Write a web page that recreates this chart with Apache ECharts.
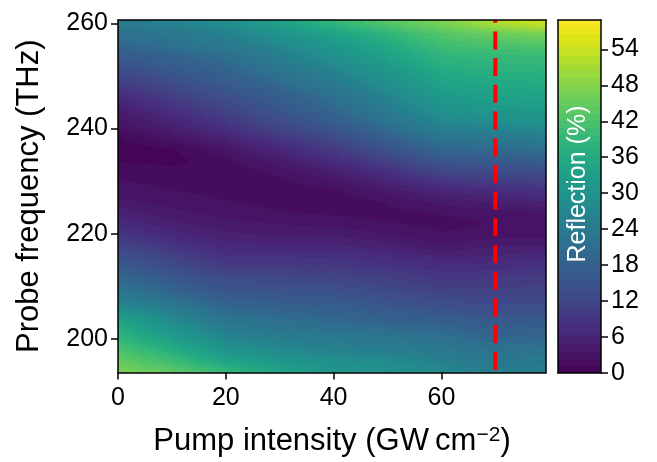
<!DOCTYPE html>
<html><head><meta charset="utf-8">
<script src="https://cdn.jsdelivr.net/npm/echarts@6/dist/echarts.min.js"></script>
<style>html,body{margin:0;padding:0;background:#fff}#c{width:657px;height:462px}</style>
</head><body><div id="c"></div>
<script>
// ---- data ----
const pumpIntensity = [0, 10, 20, 30, 40, 50, 60, 70, 79.4];
const probeFrequency = [260,258,256,254,252,250,248,246,244,242,240,238,236,234,232,230,228,226,224,222,220,218,216,214,212,210,208,206,204,202,200,198,196,194];
const reflection = [
  [24, 26, 28.5, 33.5, 38.5, 43, 47, 51.5, 54.5],
  [21.5, 23.5, 26, 30, 34, 38.5, 43, 45.5, 47],
  [19.5, 21.5, 24, 27.5, 31.5, 36, 41, 42, 43],
  [17, 19, 21.5, 25.5, 29.5, 34, 38.5, 39.5, 40],
  [14.5, 17, 19.5, 23.5, 27.5, 32, 37, 38, 38.5],
  [12, 15, 18, 21.5, 25.5, 30, 35, 36.5, 37],
  [9.5, 12.5, 16, 19.5, 23.5, 28.5, 33.5, 35, 35.5],
  [7, 10.5, 14, 17.5, 21.5, 26.5, 31.5, 33.5, 34],
  [5, 8.5, 12, 16, 20, 25, 30, 32, 32.5],
  [3.5, 6.5, 10, 14, 18, 23, 28, 29.5, 30.5],
  [2.5, 5, 8, 12, 15.5, 20.5, 25.5, 26.5, 28],
  [1, 3, 5.5, 9, 12.5, 17.5, 22.5, 23, 24.5],
  [0.5, 1, 3.5, 6.5, 10, 14.5, 19.5, 20, 21.5],
  [1, 0.8, 2, 4.5, 7.5, 11.5, 16, 16.5, 17.5],
  [2, 1.5, 1.5, 3, 5, 8.5, 12.5, 13.5, 14],
  [2.5, 2, 1.5, 2, 3.5, 6, 9, 10.5, 11],
  [3, 2.5, 2, 1.6, 2, 4, 6, 7, 8],
  [4, 3, 2.5, 2, 1.5, 2.5, 4, 5, 6],
  [5.5, 4, 3, 2.5, 2.2, 2, 2.5, 3, 3.5],
  [7, 5, 4, 3.5, 3, 2.5, 2, 2.5, 2.5],
  [9, 6.5, 5, 4.5, 4.5, 3.5, 2.5, 3, 3],
  [11.5, 8.5, 6.5, 6, 6, 5, 3.5, 4.5, 4.5],
  [14, 11, 8, 8, 8, 7, 5.5, 6, 6.5],
  [16.5, 13, 10, 10, 9.5, 8.5, 7.5, 7.5, 8.5],
  [19, 15.5, 12.5, 12, 11.5, 10.5, 9, 9.5, 10],
  [21.5, 18, 14.5, 14, 13.5, 12, 10.5, 10.5, 11],
  [24.5, 20.5, 17, 16, 15.5, 14, 12.5, 12, 12.5],
  [28, 24, 19.5, 18.5, 17.5, 16, 14.5, 13.5, 14],
  [33.5, 27, 22, 20.5, 19.5, 18, 17, 15.5, 16],
  [36.5, 30, 24.5, 22.5, 21.5, 20.5, 19.5, 17.5, 18],
  [39, 33, 27, 25, 24, 23, 21.5, 19.5, 20],
  [42, 36.5, 30, 27.5, 26, 25, 23.5, 21.5, 22],
  [44.5, 40, 34, 30.5, 28.5, 27.5, 25.5, 23, 23.5],
  [47, 43.5, 38.5, 34, 30.5, 29.5, 27.5, 24.5, 25]
];
const cutoffIntensity = [70];
const xRange = [0, 79.4];
const yRange = [193.66, 260.63];
const cRange = [0, 58.9];
const xTicks = [0, 20, 40, 60];
const yTicks = [200, 220, 240, 260];
const cbarTicks = [0, 6, 12, 18, 24, 30, 36, 42, 48, 54];
const contourBands = 49;

// ---- colormap (viridis) ----
const VIR = ['#440154','#471365','#482475','#463480','#414487','#3b528b','#355f8d','#2f6c8e','#2a788e','#25848e','#21918c','#1e9c89','#22a884','#2fb47c','#44bf70','#5ec962','#7ad151','#9bd93c','#bddf26','#dfe318','#fde725'];
const VIRRGB = VIR.map(h => [parseInt(h.slice(1,3),16), parseInt(h.slice(3,5),16), parseInt(h.slice(5,7),16)]);
function vcolor(v) {
  let t = (v - cRange[0]) / (cRange[1] - cRange[0]);
  t = Math.max(0, Math.min(1, t));
  const p = t * (VIR.length - 1);
  const i = Math.min(Math.floor(p), VIR.length - 2);
  const f = p - i, a = VIRRGB[i], b = VIRRGB[i + 1];
  return 'rgb(' + Math.round(a[0] + (b[0]-a[0])*f) + ',' + Math.round(a[1] + (b[1]-a[1])*f) + ',' + Math.round(a[2] + (b[2]-a[2])*f) + ')';
}
const LSTEP = (cRange[1] - cRange[0]) / contourBands;
function bandIdx(v) { return Math.max(0, Math.min(contourBands - 1, Math.floor((v - cRange[0]) / LSTEP))); }
function bandColor(k) { return vcolor(cRange[0] + (k + 0.5) * LSTEP); }
function bandStops(v0, v1) {
  const k0 = bandIdx(v0), k1 = bandIdx(v1);
  const stops = [{ offset: 0, color: bandColor(k0) }];
  if (k0 !== k1) {
    const dir = k1 > k0 ? 1 : -1;
    for (let k = k0; k !== k1; k += dir) {
      const bnd = cRange[0] + (dir > 0 ? k + 1 : k) * LSTEP;
      const s = Math.max(0, Math.min(1, (bnd - v0) / (v1 - v0)));
      stops.push({ offset: s, color: bandColor(k) });
      stops.push({ offset: s, color: bandColor(k + dir) });
    }
  }
  stops.push({ offset: 1, color: bandColor(k1) });
  return stops;
}

// ---- build cells between grid nodes ----
const rowF = [yRange[1]].concat(probeFrequency, [yRange[0]]);
const rowV = [reflection[0]].concat(reflection, [reflection[reflection.length - 1]]);
const cells = [];
for (let i = 0; i < rowF.length - 1; i++) {
  for (let j = 0; j < pumpIntensity.length - 1; j++) {
    cells.push([pumpIntensity[j], pumpIntensity[j+1], rowF[i], rowF[i+1],
      rowV[i][j], rowV[i][j+1], rowV[i+1][j], rowV[i+1][j+1]]);
  }
}

const FONT = 'Liberation Sans, Arial, sans-serif';
const FS = 25;
const FSN = 31;
const black = '#000';
const lineAxis = (extra) => Object.assign({
  type: 'value', axisLine: { show: true, onZero: false, lineStyle: { color: black, width: 1.5 } },
  axisTick: { show: false }, axisLabel: { show: false }, splitLine: { show: false }, z: 10
}, extra);

const chart = echarts.init(document.getElementById('c'));
chart.setOption({
  animation: false,
  backgroundColor: '#fff',
  grid: [
    { left: 118, right: 111, top: 20, bottom: 89 },
    { left: 558, width: 43, top: 20, bottom: 89 }
  ],
  xAxis: [
    lineAxis({ gridIndex: 0, position: 'bottom', min: xRange[0], max: xRange[1],
      axisTick: { show: true, length: 7, lineStyle: { color: black, width: 1.5 }, customValues: xTicks },
      axisLabel: { show: true, customValues: xTicks, color: black, fontSize: FS, fontFamily: FONT, margin: 13 },
      name: '{n|Pump intensity (GW\u2009cm}{s|\u22122}{n|)}', nameLocation: 'middle', nameGap: 52,
      nameTextStyle: { rich: { n: { fontSize: FSN, fontFamily: FONT, color: black, lineHeight: 34 },
        s: { fontSize: 21, fontFamily: FONT, color: black, lineHeight: 22, verticalAlign: 'top' } } } }),
    lineAxis({ gridIndex: 0, position: 'top', min: xRange[0], max: xRange[1] }),
    lineAxis({ gridIndex: 1, position: 'bottom', min: 0, max: 1 }),
    lineAxis({ gridIndex: 1, position: 'top', min: 0, max: 1 })
  ],
  yAxis: [
    lineAxis({ gridIndex: 0, position: 'left', min: yRange[0], max: yRange[1],
      axisTick: { show: true, length: 7, lineStyle: { color: black, width: 1.5 }, customValues: yTicks },
      axisLabel: { show: true, customValues: yTicks, color: black, fontSize: FS, fontFamily: FONT, margin: 10 },
      name: 'Probe frequency (THz)', nameLocation: 'middle', nameRotate: 90, nameGap: 73,
      nameTextStyle: { fontSize: FSN, fontFamily: FONT, color: black } }),
    lineAxis({ gridIndex: 0, position: 'right', min: yRange[0], max: yRange[1] }),
    lineAxis({ gridIndex: 1, position: 'left', min: cRange[0], max: cRange[1] }),
    lineAxis({ gridIndex: 1, position: 'right', min: cRange[0], max: cRange[1],
      axisTick: { show: true, length: 7, lineStyle: { color: black, width: 1.5 }, customValues: cbarTicks },
      axisLabel: { show: true, customValues: cbarTicks, color: black, fontSize: FS, fontFamily: FONT, margin: 10 } })
  ],
  graphic: [{
    type: 'text', x: 578, y: 184, rotation: Math.PI / 2, z: 100,
    style: { text: 'Reflection (%)', fill: '#fff', font: FS + 'px ' + FONT, align: 'center', verticalAlign: 'middle' }
  }],
  series: [
    {
      type: 'custom', xAxisIndex: 0, yAxisIndex: 0, z: 1, silent: true, clip: true,
      encode: { x: [0, 1], y: [2, 3] },
      data: cells,
      renderItem: function (params, api) {
        const x0 = api.value(0), x1 = api.value(1), f0 = api.value(2), f1 = api.value(3);
        const a = api.value(4), b = api.value(5), c = api.value(6), d = api.value(7);
        const p0 = api.coord([x0, f0]), p1 = api.coord([x1, f1]);
        const K = Math.max(1, Math.round((p1[1] - p0[1]))), h = (p1[1] - p0[1]) / K, children = [];
        for (let k = 0; k < K; k++) {
          const t = (k + 0.5) / K;
          const vl = a + (c - a) * t, vr = b + (d - b) * t;
          children.push({ type: 'rect', shape: { x: p0[0], y: p0[1] + k * h, width: p1[0] - p0[0] + 1.5, height: h + 1.5 },
            style: { fill: new echarts.graphic.LinearGradient(0, 0, 1, 0, bandStops(vl, vr)) } });
        }
        return { type: 'group', children: children };
      }
    },
    {
      type: 'line', xAxisIndex: 0, yAxisIndex: 0, z: 5, silent: true, symbol: 'none',
      data: [[cutoffIntensity[0], yRange[0]], [cutoffIntensity[0], yRange[1]]],
      lineStyle: { color: '#ff0000', width: 4, type: [18, 8.7], dashOffset: 24 }
    },
    {
      type: 'custom', xAxisIndex: 2, yAxisIndex: 2, z: 1, silent: true,
      encode: { x: 0, y: [1, 2] },
      data: [[0, cRange[0], cRange[1]]],
      renderItem: function (params, api) {
        const lo = api.value(1), hi = api.value(2);
        const p0 = api.coord([0, lo]), p1 = api.coord([1, hi]);
        return { type: 'rect', shape: { x: p0[0], y: p1[1], width: p1[0] - p0[0], height: p0[1] - p1[1] },
          style: { fill: new echarts.graphic.LinearGradient(0, 1, 0, 0, bandStops(lo, hi)) } };
      }
    }
  ]
});
</script></body></html>
